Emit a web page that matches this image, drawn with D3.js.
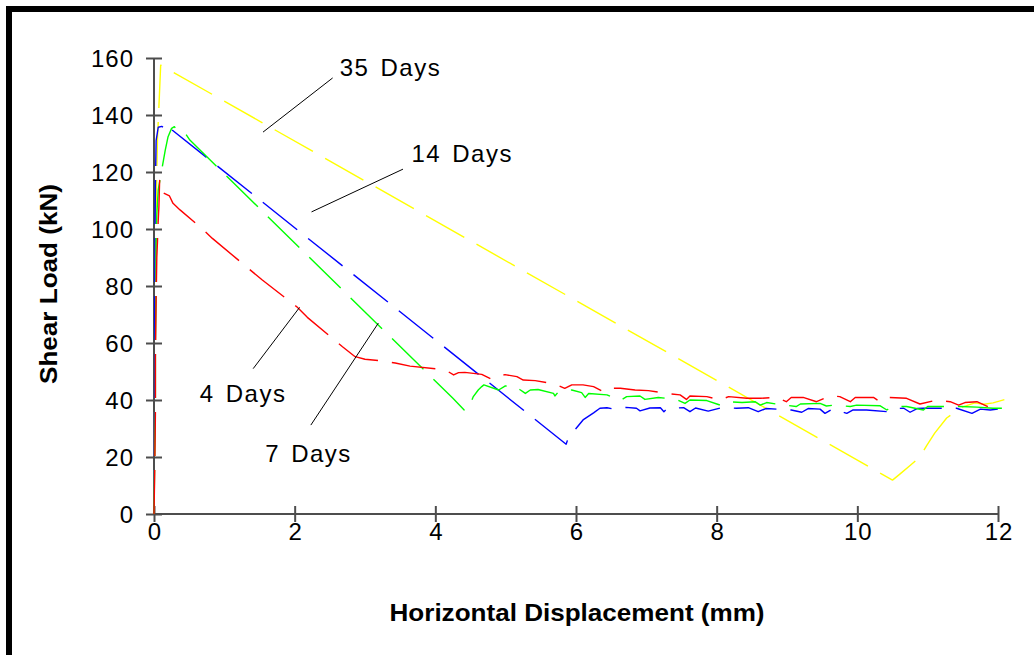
<!DOCTYPE html>
<html>
<head>
<meta charset="utf-8">
<script src="https://cdn.jsdelivr.net/npm/d3@7"></script>
<style>
  html, body { margin: 0; padding: 0; background: #fff; overflow: hidden; }
  svg { display: block; font-family: "Liberation Sans", Arial, sans-serif; }
</style>
</head>
<body>
<svg id="chart" width="1034" height="655"></svg>
<script>
// ---------- data ----------
const xTicks = [0, 2, 4, 6, 8, 10, 12];
const yTicks = [0, 20, 40, 60, 80, 100, 120, 140, 160];
const seriesNames = ["4 Days", "7 Days", "14 Days", "35 Days"];
const seriesColors = ["#ff0000", "#00ff00", "#0000ff", "#ffff00"];

const day4X = [0, 0.01, 0.02, 0.02, 0.03, 0.04, 0.05, 0.06, 0.07, 0.08, 0.1, 0.22, 0.27, 0.37, 0.68, 0.83, 1.34, 1.54, 2.03, 2.18, 2.68, 2.86, 3.0, 3.21, 3.43, 3.64, 4.07, 4.16, 4.26, 4.33, 4.42, 4.66, 4.8, 4.9, 4.99, 5.16, 5.25, 5.42, 5.7, 5.84, 5.94, 6.1, 6.25, 6.39, 6.46, 6.63, 6.84, 7.03, 7.29, 7.48, 7.57, 7.62, 7.86, 8.05, 8.17, 8.43, 8.62, 8.85, 8.99, 9.06, 9.23, 9.42, 9.61, 9.75, 9.9, 9.97, 10.23, 10.32, 10.42, 10.7, 10.89, 11.13, 11.32, 11.44, 11.53, 11.7, 11.91, 11.96];
const day4Y = [0, 15, 35, 55, 75, 90, 96, 103, 108, 117, 113, 111.6, 109, 106.7, 100.2, 96.7, 86.2, 82.1, 72.7, 69, 58.7, 55.2, 54.3, 53.8, 53, 51.9, 50.8, 50.3, 48.8, 49.6, 49.7, 49, 47.3, 48.4, 48.9, 48.2, 47, 46.8, 45.6, 44.1, 45.3, 45.3, 44.7, 42.9, 44.1, 44.1, 43.5, 43.3, 42.3, 41.8, 40.2, 41.4, 41.2, 40, 41.2, 40.6, 40.6, 40.9, 39.4, 40.9, 40.9, 39.4, 41.4, 41.2, 39.4, 40.9, 40.9, 39.4, 40.9, 40.6, 38.6, 40, 39.4, 38.2, 39.1, 39.4, 37.1, 36.5];

const day7X = [0, 0.01, 0.02, 0.02, 0.03, 0.03, 0.04, 0.06, 0.11, 0.16, 0.2, 0.25, 0.29, 0.32, 0.37, 0.42, 0.51, 4.25, 4.41, 4.44, 4.49, 4.54, 4.61, 4.66, 4.69, 4.9, 4.99, 5.13, 5.2, 5.28, 5.35, 5.46, 5.68, 5.7, 5.75, 5.94, 6.08, 6.13, 6.18, 6.44, 6.63, 6.72, 6.91, 6.98, 7.17, 7.43, 7.55, 7.62, 7.86, 8.05, 8.15, 8.36, 8.55, 8.62, 8.71, 8.85, 9.13, 9.19, 9.47, 9.56, 9.68, 9.9, 9.99, 10.32, 10.42, 10.5, 10.7, 10.94, 11.0, 11.24, 11.46, 11.7, 11.93, 12.12];
const day7Y = [0, 20, 40, 60, 80, 95, 105, 113.7, 120.7, 127.7, 132.4, 135.3, 135.9, 134.9, 134.9, 134.5, 131.2, 40.6, 36.5, 36.3, 38.2, 41.2, 43.5, 44.7, 45.3, 43.5, 44.9, 45, 43.7, 42.3, 43.5, 43.7, 42.3, 41.4, 42.9, 43.5, 42.6, 40.9, 42.3, 41.8, 39.8, 41.2, 41.4, 40.2, 40.9, 40.2, 38.8, 40, 39.8, 38.2, 39.4, 39.1, 39.4, 38.2, 39.1, 38.6, 37.7, 38.6, 38.8, 37.9, 38.2, 37.7, 38.2, 38, 36.5, 37.7, 37.7, 36.5, 37.7, 37.7, 37.7, 37.5, 37.1, 37.1];

const day14X = [0, 0.005, 0.01, 0.01, 0.015, 0.02, 0.03, 0.06, 0.11, 0.16, 0.19, 0.22, 0.25, 5.86, 5.88, 6.0, 6.1, 6.25, 6.34, 6.44, 6.52, 6.71, 6.86, 6.91, 7.05, 7.2, 7.25, 7.3, 7.53, 7.62, 7.7, 7.88, 8.07, 8.28, 8.45, 8.59, 8.7, 8.85, 9.06, 9.21, 9.3, 9.47, 9.54, 9.65, 9.85, 9.94, 10.13, 10.42, 10.5, 10.66, 10.75, 10.85, 10.94, 11.22, 11.41, 11.63, 11.75, 11.89, 12.12];
const day14Y = [0, 25, 50, 75, 100, 115, 131, 135.7, 136, 135.3, 134.7, 136, 134.9, 24.5, 26, 30, 33, 35.5, 37.1, 37.3, 36.9, 37.4, 37.1, 36.2, 37.2, 37.3, 35.9, 37.1, 37.3, 35.9, 37.2, 36.1, 37.3, 37.1, 37.3, 35.9, 37.0, 36.8, 36.5, 35.7, 37.0, 36.8, 35.3, 36.9, 35.3, 36.5, 36.5, 35.9, 37.0, 37.1, 35.7, 37.0, 37.1, 37.1, 37.1, 35.3, 36.8, 36.5, 37.1];

const day35X = [0, 0.005, 0.01, 0.015, 0.02, 0.03, 0.04, 0.05, 0.07, 0.095, 10.5, 10.6, 10.75, 10.89, 10.99, 11.1, 11.27, 11.49, 11.67, 11.8, 11.93, 12.03, 12.13];
const day35Y = [0, 20, 45, 70, 90, 105, 120, 132, 143, 157.5, 11.9, 13.9, 17, 20, 24.2, 28.4, 33.7, 37.5, 39, 38.5, 39, 39.7, 40.4];

// annotation anchors (data coords): label text, point on curve, label position
const annoNames = ["35 Days", "14 Days", "4 Days", "7 Days"];
const annoPointX = [1.55, 2.24, 2.07, 3.19];
const annoPointY = [134, 106, 72.5, 67];
const annoElbowX = [2.54, 3.54, 1.41, 2.23];
const annoElbowY = [153, 121, 51, 31.2];
const annoTextX = [2.64, 3.66, 0.65, 1.58];
const annoTextY = [153.7, 123.6, 39.4, 18.4];

// ---------- drawing ----------
const svg = d3.select("#chart");
const x = d3.scaleLinear().domain([0, 12]).range([154, 998]);
const y = d3.scaleLinear().domain([0, 160]).range([514, 58]);

// outer frame
svg.append("rect").attr("x", 9).attr("y", 9).attr("width", 1040).attr("height", 660)
  .attr("fill", "none").attr("stroke", "#000").attr("stroke-width", 6);

const axisColor = "#4d4d4d";
const labelFont = 24;

// x axis
const gx = svg.append("g").attr("transform", "translate(0,514)")
  .call(d3.axisBottom(x).tickValues(xTicks).tickSize(8).tickFormat(d3.format("d")));
gx.select(".domain").attr("stroke", axisColor).attr("stroke-width", 2).attr("d", `M${x(0)},0H${x(12)}`);
gx.selectAll(".tick line").attr("stroke", axisColor).attr("stroke-width", 2).attr("y1", -8).attr("y2", 8);
gx.selectAll(".tick text").attr("fill", "#000").attr("font-size", labelFont).attr("font-family", "Liberation Sans, Arial, sans-serif")
  .attr("y", 26).attr("dy", 0).attr("letter-spacing", 1).attr("dx", 0.5);

// y axis
const gy = svg.append("g").attr("transform", "translate(154,0)")
  .call(d3.axisLeft(y).tickValues(yTicks).tickSize(8).tickFormat(d3.format("d")));
gy.select(".domain").attr("stroke", axisColor).attr("stroke-width", 2).attr("d", `M0,${y(0)}V${y(160)}`);
gy.selectAll(".tick line").attr("stroke", axisColor).attr("stroke-width", 2).attr("x1", 8).attr("x2", -8);
gy.selectAll(".tick text").attr("fill", "#000").attr("font-size", labelFont).attr("font-family", "Liberation Sans, Arial, sans-serif")
  .attr("x", -20).attr("dy", "0.36em").attr("letter-spacing", 1);

// series
const seriesX = [day4X, day7X, day14X, day35X];
const seriesY = [day4Y, day7Y, day14Y, day35Y];
const line = d3.line().x(d => x(d[0])).y(d => y(d[1]));
[3, 2, 1, 0].forEach(i => {
  const pts = seriesX[i].map((v, k) => [v, seriesY[i][k]]);
  svg.append("path").datum(pts)
    .attr("d", line)
    .attr("fill", "none")
    .attr("stroke", seriesColors[i])
    .attr("stroke-width", 1.4)
    .attr("stroke-dasharray", "44,14")
    .attr("stroke-linejoin", "round");
});

// annotations
annoNames.forEach((name, i) => {
  svg.append("line")
    .attr("x1", x(annoPointX[i])).attr("y1", y(annoPointY[i]))
    .attr("x2", x(annoElbowX[i])).attr("y2", y(annoElbowY[i]))
    .attr("stroke", "#000").attr("stroke-width", 1);
  svg.append("text")
    .attr("x", x(annoTextX[i])).attr("y", y(annoTextY[i]))
    .attr("font-size", 24).attr("letter-spacing", 1.5).attr("word-spacing", 3)
    .attr("fill", "#000")
    .text(name);
});

// axis titles
svg.append("text").attr("x", 577).attr("y", 621).attr("text-anchor", "middle")
  .attr("font-size", 24).attr("font-weight", "bold").attr("fill", "#000")
  .attr("textLength", 375).attr("lengthAdjust", "spacingAndGlyphs")
  .text("Horizontal Displacement (mm)");
svg.append("text").attr("transform", "translate(57,284) rotate(-90)").attr("text-anchor", "middle")
  .attr("font-size", 24).attr("font-weight", "bold").attr("fill", "#000")
  .attr("textLength", 200).attr("lengthAdjust", "spacingAndGlyphs")
  .text("Shear Load (kN)");
</script>
</body>
</html>
